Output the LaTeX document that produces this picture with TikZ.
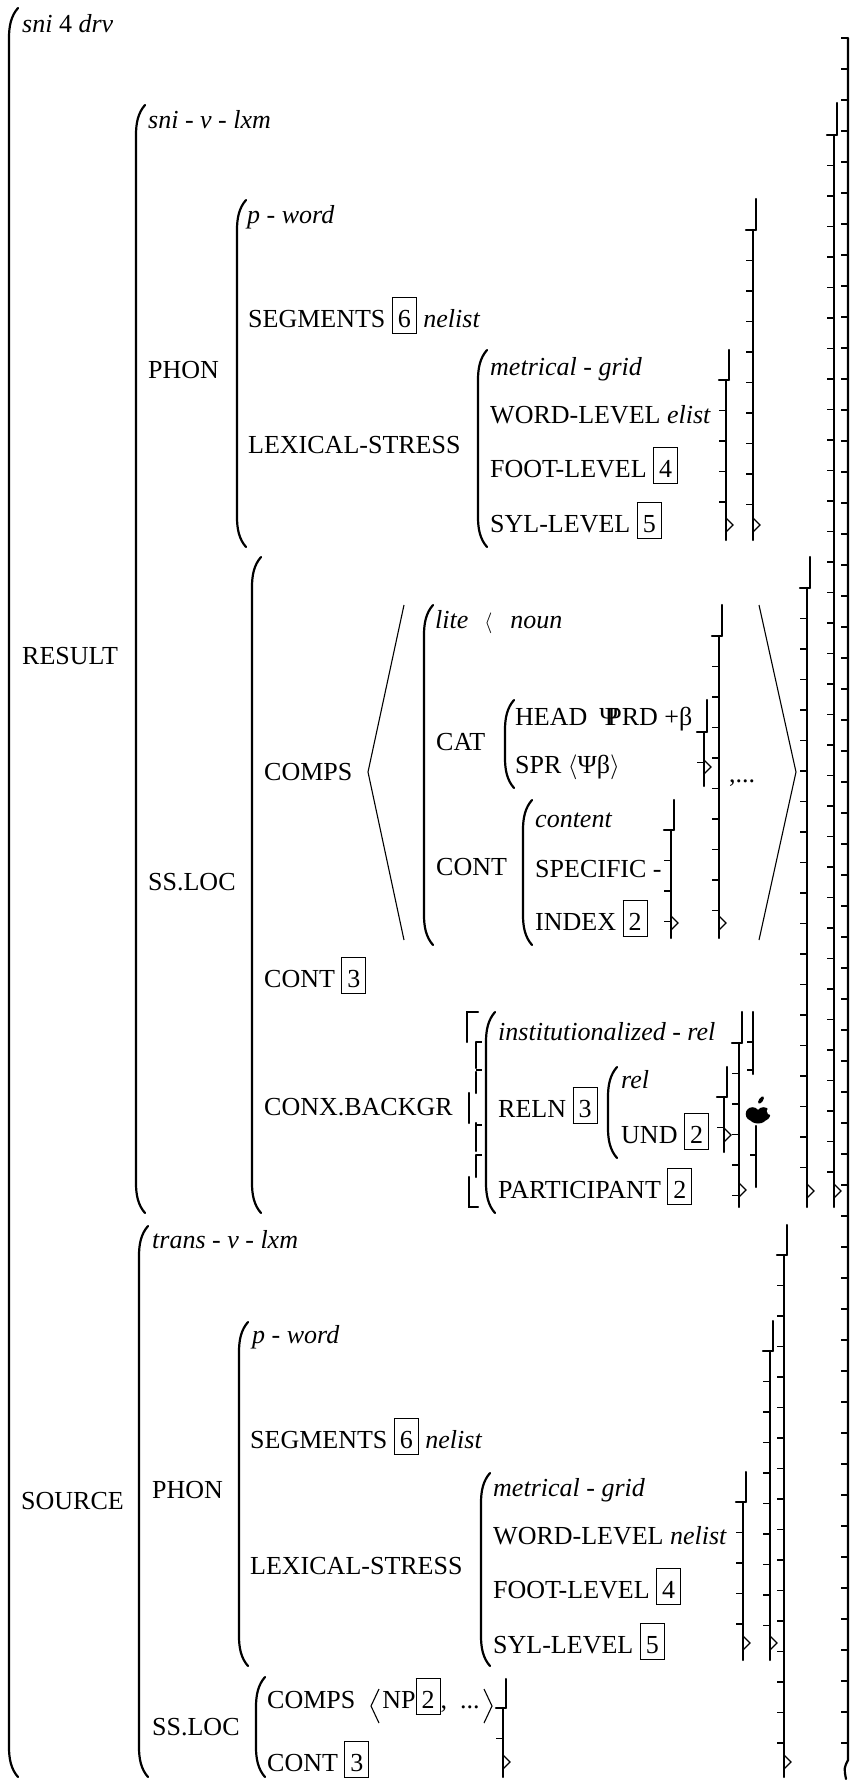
\documentclass[tikz,border=0pt]{standalone}
\usepackage{fontspec}
\setmainfont{Liberation Serif}
\usetikzlibrary{positioning}
\tikzset{
    lbl/.style = {anchor=base west, inner sep=0pt, font=\fontsize{26}{30}\selectfont},
    delim/.style = {line width=2.2pt, line cap=round},
    tick/.style = {line width=1.3pt},
    angle/.style = {line width=1.1pt},
}
\newcommand{\tagbox}[1]{{\setlength{\fboxsep}{0pt}\setlength{\fboxrule}{1pt}%
  \fbox{\hspace{5pt}\rule[-6pt]{0pt}{35pt}#1\hspace{5pt}}}}
% left paren: x, top, bottom
\newcommand{\lpar}[3]{%
  \draw[delim] (#1+9,#2) .. controls (#1+2,#2+8) and (#1,#2+18) .. (#1,#2+30)
    -- (#1,#3-30) .. controls (#1,#3-18) and (#1+2,#3-8) .. (#1+9,#3);}
% broken right bracket: x, top, hook, bottom, wedge
\newcommand{\rbrk}[5]{%
  \draw[delim] (#1+3,#2) -- (#1+3,#3) (#1-7,#3) -- (#1+3,#3) (#1,#3) -- (#1,#4);
  \foreach \k in {1,...,40}{
    \pgfmathsetmacro\ty{#3+30.5*\k}
    \ifdim\ty pt<\dimexpr#4pt-10pt\relax \draw[tick] (#1-7,\ty) -- (#1,\ty); \fi
  }
  \draw[tick] (#1,#5-7) -- (#1+7,#5) -- (#1,#5+7);}

\begin{document}
\begin{tikzpicture}[x=1pt, y=-1pt]
\useasboundingbox (0,0) rectangle (850,1780);

\node[lbl] (drv) at (22,32) {\textit{sni} 4 \textit{drv}};
\node[lbl] (result) at (22,664) {RESULT};
\node[lbl] (source) at (21,1509) {SOURCE};

% RESULT
\node[lbl] (snilxm) at (148,128) {\textit{sni} - \textit{v} - \textit{lxm}};
\node[lbl] (phon) at (148,378) {PHON};
\node[lbl] (pword) at (247,223) {\textit{p} - \textit{word}};
\node[lbl] (segs) at (248,327) {SEGMENTS \tagbox{6} \textit{nelist}};
\node[lbl] (lexstr) at (248,453) {LEXICAL-STRESS};
\node[lbl] (metgrid) at (490,375) {\textit{metrical} - \textit{grid}};
\node[lbl] (wordlev) at (490,423) {WORD-LEVEL \textit{elist}};
\node[lbl] (footlev) at (490,477) {FOOT-LEVEL \tagbox{4}};
\node[lbl] (syllev) at (490,532) {SYL-LEVEL \tagbox{5}};
\node[lbl] (ssloc) at (148,890) {SS.LOC};
\node[lbl] (comps) at (264,780) {COMPS};
\node[lbl] (lite) at (435,628) {\textit{lite}\hspace{16pt}{\fontsize{22}{22}\selectfont$\langle$}\hspace{18pt}\textit{noun}};
\node[lbl] (cat) at (436,750) {CAT};
\node[lbl] (head) at (515,725) {HEAD\hspace{12pt}\rlap{Ψ}\hspace{8pt}PRD +β};
\node[lbl] (spr) at (515,773) {SPR $\langle$Ψβ$\rangle$};
\node[lbl] (etc) at (729,782) {,...};
\node[lbl] (catcont) at (436,875) {CONT};
\node[lbl] (content) at (535,827) {\textit{content}};
\node[lbl] (specific) at (535,877) {SPECIFIC -};
\node[lbl] (index) at (535,930) {INDEX \tagbox{2}};
\node[lbl] (cont) at (264,987) {CONT \tagbox{3}};
\node[lbl] (conx) at (264,1115) {CONX.BACKGR};
\node[lbl] (instrel) at (498,1040) {\textit{institutionalized} - \textit{rel}};
\node[lbl] (reln) at (498,1117) {RELN \tagbox{3}};
\node[lbl] (rel) at (621,1088) {\textit{rel}};
\node[lbl] (und) at (621,1143) {UND \tagbox{2}};
\node[lbl] (partic) at (498,1198) {PARTICIPANT \tagbox{2}};

% SOURCE
\node[lbl] (translxm) at (152,1248) {\textit{trans} - \textit{v} - \textit{lxm}};
\node[lbl] (srcphon) at (152,1498) {PHON};
\node[lbl] (srcpword) at (252,1343) {\textit{p} - \textit{word}};
\node[lbl] (srcsegs) at (250,1448) {SEGMENTS \tagbox{6} \textit{nelist}};
\node[lbl] (srclex) at (250,1574) {LEXICAL-STRESS};
\node[lbl] (srcmet) at (493,1496) {\textit{metrical} - \textit{grid}};
\node[lbl] (srcword) at (493,1544) {WORD-LEVEL \textit{nelist}};
\node[lbl] (srcfoot) at (493,1598) {FOOT-LEVEL \tagbox{4}};
\node[lbl] (srcsyl) at (493,1653) {SYL-LEVEL \tagbox{5}};
\node[lbl] (srcssloc) at (152,1735) {SS.LOC};
\node[lbl] (srccomps) at (267,1708) {COMPS\hspace{27pt}NP\tagbox{2}, \ ...};
\node[lbl] (srccont) at (267,1771) {CONT \tagbox{3}};

% parentheses
\lpar{9}{8}{1777}
\lpar{136}{105}{1213}
\lpar{237}{200}{547}
\lpar{478}{350}{547}
\lpar{252}{557}{1213}
\lpar{424}{605}{945}
\lpar{505}{700}{788}
\lpar{523}{800}{945}
\lpar{486}{1012}{1213}
\lpar{608}{1067}{1158}
\lpar{139}{1226}{1777}
\lpar{239}{1322}{1666}
\lpar{481}{1473}{1666}
\lpar{256}{1677}{1777}

% brackets
\draw[delim] (848,38) -- (848,1760) .. controls (844,1768) .. (846,1779);
\draw[tick] (841,38) -- (848,38);
\foreach \k in {1,...,55} \draw[tick] (841,38+31*\k) -- (848,38+31*\k);
\rbrk{834}{103}{135}{1207}{1191}
\rbrk{753}{199}{230}{540}{525}
\rbrk{726}{350}{380}{540}{525}
\rbrk{807}{557}{588}{1207}{1191}
\rbrk{719}{605}{636}{938}{923}
\rbrk{704}{700}{732}{786}{767}
\rbrk{671}{800}{830}{938}{923}
\rbrk{739}{1012}{1043}{1207}{1190}
\rbrk{724}{1067}{1097}{1152}{1135}
\rbrk{784}{1225}{1255}{1777}{1762}
\rbrk{770}{1321}{1351}{1660}{1643}
\rbrk{743}{1472}{1502}{1660}{1643}
\rbrk{503}{1679}{1708}{1777}{1762}

% CONX.BACKGR square brackets
\draw[delim] (478,1012) -- (467,1012) -- (467,1042);
\draw[delim] (476,1042) -- (476,1068) (476,1072) -- (476,1093);
\draw[delim] (469,1093) -- (469,1123);
\draw[delim] (476,1123) -- (476,1151) (476,1155) -- (476,1177);
\draw[delim] (469,1177) -- (469,1207) -- (478,1207);
\foreach \t in {1042,1070,1125,1155} \draw[tick] (476,\t) -- (482,\t);
\draw[delim] (753,1012) -- (753,1074);
\draw[delim] (756,1126) -- (756,1187);
\foreach \t in {1042,1070} \draw[tick] (747,\t) -- (753,\t);
\draw[tick] (750,1155) -- (756,1155);
\fill (752.5,1114) circle (6.8);
\fill (763.5,1114) circle (6.8);
\fill (758,1118) ellipse (8.5 and 5.5);
\fill[white] (771,1111) circle (4.2);
\fill[rotate around={-35:(761,1100)}] (761,1100) ellipse (2 and 4.2);

% angle brackets
\draw[angle] (404,605) -- (368,772) -- (404,940);
\draw[angle] (759,605) -- (796,772) -- (759,940);
\draw[angle] (379,1689) -- (371,1706) -- (379,1723);
\draw[angle] (484,1689) -- (492,1706) -- (484,1723);
\end{tikzpicture}
\end{document}
